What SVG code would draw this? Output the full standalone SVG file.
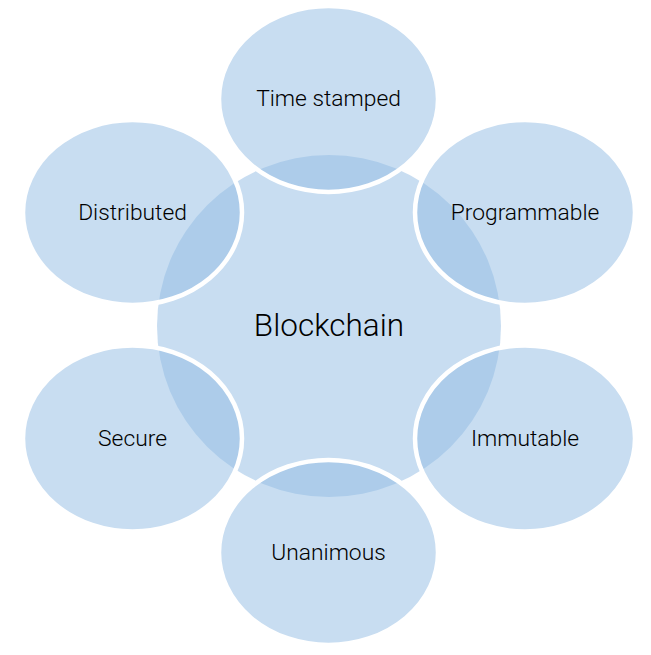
<svg xmlns="http://www.w3.org/2000/svg" width="651" height="655" viewBox="0 0 651 655">
<style>
.c{fill:#91bbe3;fill-opacity:0.5}
.o{fill:#91bbe3;fill-opacity:0.5;stroke:#ffffff;stroke-width:4.5}
text{font-family:Roboto,"Liberation Sans",sans-serif;font-weight:300;fill:#000000;text-anchor:middle}
.t{font-size:22.8px}
.b{font-size:31.5px}
</style>
<rect width="651" height="655" fill="#ffffff"/>
<g id="connectors"/>
<g id="node-blockchain"><ellipse class="c" cx="329" cy="326" rx="172" ry="171"/><text class="b" x="329" y="336">Blockchain</text></g>
<g id="node-timestamped"><ellipse class="o" cx="328.5" cy="99" rx="109.5" ry="93"/><text class="t" x="328.5" y="106">Time stamped</text></g>
<g id="node-programmable"><ellipse class="o" cx="525" cy="212.5" rx="110" ry="92.5"/><text class="t" x="525" y="220">Programmable</text></g>
<g id="node-immutable"><ellipse class="o" cx="525" cy="438.5" rx="110" ry="93"/><text class="t" x="525" y="446">Immutable</text></g>
<g id="node-unanimous"><ellipse class="o" cx="328.5" cy="552.5" rx="109.5" ry="92.5"/><text class="t" x="328.5" y="560">Unanimous</text></g>
<g id="node-secure"><ellipse class="o" cx="132.5" cy="438.5" rx="109.5" ry="93"/><text class="t" x="132.5" y="446">Secure</text></g>
<g id="node-distributed"><ellipse class="o" cx="132.5" cy="212.5" rx="109.5" ry="92.5"/><text class="t" x="132.5" y="220">Distributed</text></g>
</svg>
